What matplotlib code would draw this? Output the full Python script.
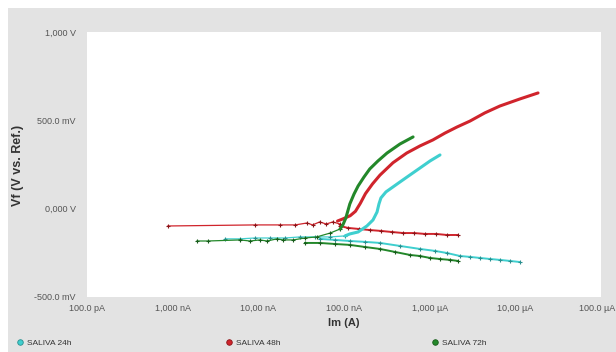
import matplotlib
matplotlib.use("Agg")
import matplotlib.pyplot as plt
from matplotlib.lines import Line2D
from matplotlib.patches import Rectangle
from matplotlib.ticker import FixedLocator, NullLocator
from matplotlib.transforms import ScaledTranslation

plt.rcParams['font.family'] = ['Liberation Sans', 'DejaVu Sans']

# ---- polarization data: current (A) and potential (V vs. Ref.) ----
# SALIVA 24h
i24_cath = [1.13e-5, 8.7e-6, 6.6e-6, 5.1e-6, 3.87e-6, 2.96e-6, 2.26e-6, 1.59e-6,
            1.15e-6, 7.7e-7, 4.5e-7, 2.63e-7, 1.76e-7, 1.17e-7, 7.9e-8, 5.2e-8]
v24_cath = [-0.302, -0.296, -0.290, -0.285, -0.279, -0.273, -0.268, -0.251,
            -0.239, -0.228, -0.211, -0.194, -0.188, -0.183, -0.177, -0.171]
i24_row = [1.03e-7, 6.9e-8, 4.6e-8, 3.06e-8, 2.05e-8, 1.37e-8, 9.1e-9, 6.1e-9, 4.1e-9]
v24_row = [-0.154, -0.160, -0.160, -0.160, -0.166, -0.166, -0.166, -0.171, -0.171]
i24_anod = [1.03e-7, 1.17e-7, 1.46e-7, 1.85e-7, 2.18e-7, 2.43e-7, 2.56e-7, 2.7e-7,
            3.09e-7, 3.73e-7, 4.5e-7, 5.9e-7, 7.7e-7, 1.01e-6, 1.32e-6]
v24_anod = [-0.154, -0.143, -0.132, -0.098, -0.064, -0.019, 0.027, 0.061,
            0.095, 0.123, 0.151, 0.191, 0.230, 0.270, 0.304]

# SALIVA 48h
i48_cath = [2.14e-6, 1.59e-6, 1.19e-6, 8.8e-7, 6.6e-7, 4.9e-7, 3.6e-7, 2.7e-7,
            2.0e-7, 1.5e-7, 1.11e-7, 9.0e-8]
v48_cath = [-0.149, -0.149, -0.143, -0.143, -0.138, -0.138, -0.132, -0.126,
            -0.121, -0.115, -0.109, -0.098]
i48_row = [9.0e-8, 7.4e-8, 6.2e-8, 5.2e-8, 4.3e-8, 3.7e-8, 2.7e-8, 1.8e-8, 9.1e-9, 8.8e-10]
v48_row = [-0.087, -0.075, -0.087, -0.075, -0.092, -0.081, -0.092, -0.092, -0.092, -0.098]
i48_anod = [8.4e-8, 9.7e-8, 1.18e-7, 1.36e-7, 1.55e-7, 1.78e-7, 2.15e-7, 2.63e-7,
            3.73e-7, 5.4e-7, 7.7e-7, 1.09e-6, 1.51e-6, 2.08e-6, 2.96e-6, 4.4e-6,
            6.6e-6, 1.13e-5, 1.84e-5]
v48_anod = [-0.070, -0.058, -0.040, -0.015, 0.030, 0.085, 0.140, 0.190,
            0.260, 0.315, 0.355, 0.389, 0.428, 0.462, 0.496, 0.542,
            0.581, 0.621, 0.655]

# SALIVA 72h
i72_cath = [2.14e-6, 1.73e-6, 1.32e-6, 1.01e-6, 7.7e-7, 5.9e-7, 3.94e-7, 2.63e-7,
            1.76e-7, 1.17e-7, 7.9e-8, 5.2e-8, 3.5e-8]
v72_cath = [-0.296, -0.290, -0.285, -0.279, -0.268, -0.262, -0.245, -0.228,
            -0.217, -0.205, -0.200, -0.194, -0.194]
i72_row = [9.0e-8, 6.9e-8, 4.8e-8, 3.5e-8, 2.54e-8, 1.94e-8, 1.65e-8, 1.26e-8,
           1.04e-8, 8.0e-9, 6.1e-9, 2.58e-9, 1.92e-9]
v72_row = [-0.115, -0.138, -0.160, -0.166, -0.177, -0.177, -0.171, -0.183,
           -0.177, -0.183, -0.177, -0.183, -0.183]
i72_anod = [9.0e-8, 9.7e-8, 1.05e-7, 1.17e-7, 1.31e-7, 1.46e-7, 1.71e-7, 2.0e-7,
            2.49e-7, 3.18e-7, 4.5e-7, 6.4e-7]
v72_anod = [-0.115, -0.092, -0.053, 0.027, 0.083, 0.128, 0.179, 0.225,
            0.270, 0.315, 0.366, 0.406]

x_ticks = [1e-10, 1e-9, 1e-8, 1e-7, 1e-6, 1e-5, 1e-4]
x_tick_labels = ['100.0 pA', '1,000 nA', '10,00 nA', '100.0 nA', '1,000 µA', '10,00 µA', '100.0 µA']
y_ticks = [-0.5, 0.0, 0.5, 1.0]
y_tick_labels = ['-500.0 mV', '0,000 V', '500.0 mV', '1,000 V']

series_names = ['SALIVA 24h', 'SALIVA 48h', 'SALIVA 72h']
colors = ['#3fcfcf', '#d0242c', '#23882a']
mark_colors = ['#2a8f8f', '#8a1418', '#175c1b']

# ---- figure ----
fig = plt.figure(figsize=(6.16, 3.52), dpi=100, facecolor='white')
fig.patches.append(Rectangle((8 / 616, 0), 1, 1 - 8 / 352, transform=fig.transFigure,
                             facecolor='#e3e3e3', edgecolor='none', zorder=-10))

ax = fig.add_axes([87 / 616, 1 - 297 / 352, 514 / 616, 265 / 352])
ax.set_facecolor('white')
ax.set_xscale('log')
ax.set_xlim(1e-10, 1e-4)
ax.set_ylim(-0.5, 1.0)
for s in ax.spines.values():
    s.set_visible(False)

groups = [
    (i24_cath, v24_cath, i24_row, v24_row, i24_anod, v24_anod),
    (i48_cath, v48_cath, i48_row, v48_row, i48_anod, v48_anod),
    (i72_cath, v72_cath, i72_row, v72_row, i72_anod, v72_anod),
]
handles = []
for (ic, vc, ir, vr, ia, va), c, mc, name in zip(groups, colors, mark_colors, series_names):
    ax.plot(ic, vc, color=c, lw=1.4, marker='+', ms=3, mew=0.8, mec=mc, zorder=3)
    ax.plot(ir, vr, color=c, lw=0.9, marker='+', ms=3.5, mew=0.8, mec=mc, zorder=3)
    ax.plot(ia, va, color=c, lw=2.2, solid_capstyle='round', solid_joinstyle='round', zorder=4)
    handles.append(Line2D([], [], color=c, marker='o', ls='none', ms=4,
                          mec=mc, mew=0.6, label=name))

ax.xaxis.set_major_locator(FixedLocator(x_ticks))
ax.xaxis.set_minor_locator(NullLocator())
ax.set_xticklabels(x_tick_labels)
ax.yaxis.set_major_locator(FixedLocator(y_ticks))
ax.set_yticklabels(y_tick_labels)
ax.tick_params(axis='both', length=0, labelsize=6.5, labelcolor='#555555')
ax.tick_params(axis='x', pad=5)
ax.tick_params(axis='y', pad=8)

# keep the rightmost current label inside the canvas
last = ax.get_xticklabels()[-1]
last.set_transform(last.get_transform() + ScaledTranslation(-4 / 100, 0, fig.dpi_scale_trans))

ax.set_xlabel('Im (A)', fontsize=8, fontweight='bold', color='#333333', labelpad=4)
fig.text(18 / 616, 1 - 165 / 352, 'Vf (V vs. Ref.)', rotation=90, fontsize=9,
         fontweight='bold', color='#333333', ha='center', va='center')

# legend entries spread along the bottom edge
for h, xpos in zip(handles, [17 / 616, 226 / 616, 432 / 616]):
    leg = fig.legend(handles=[h], loc='center left', bbox_to_anchor=(xpos, 1 - 343 / 352),
                     frameon=False, fontsize=6, handlelength=0.6, handletextpad=0.6,
                     borderpad=0, borderaxespad=0)
    for t in leg.get_texts():
        t.set_color('#333333')

fig.savefig('out.png', dpi=100, facecolor=fig.get_facecolor())
